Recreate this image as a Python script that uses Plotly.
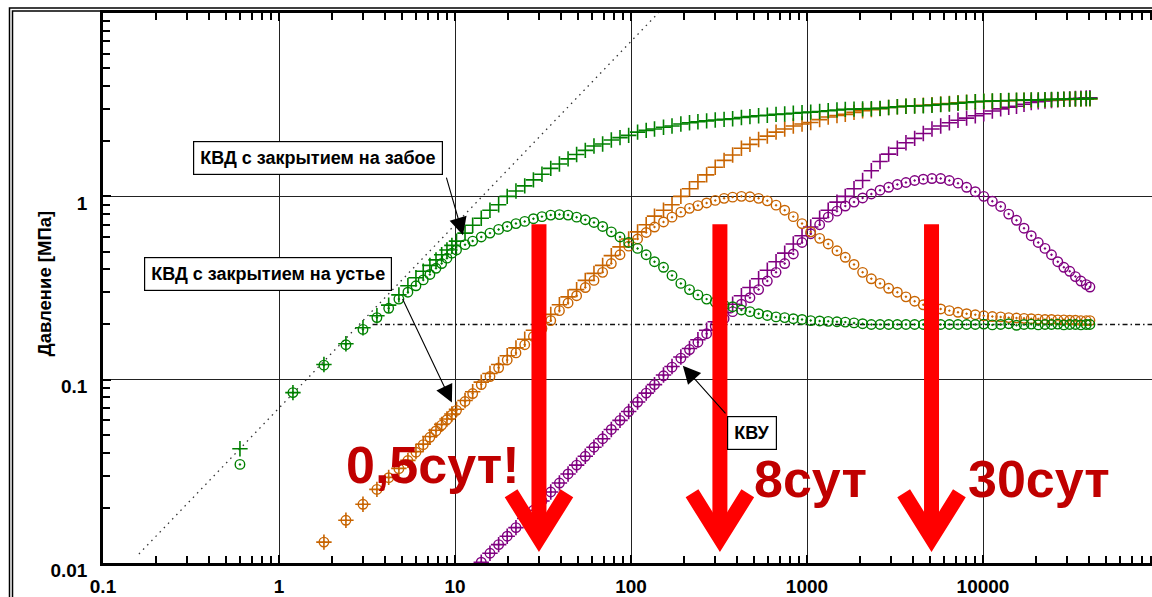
import numpy as np
import plotly.graph_objects as go

# ---------------- data ----------------
t = [0.6, 1.2, 1.8, 2.4, 3.0, 3.6, 4.2, 4.8, 5.4, 6.0, 6.6, 7.2, 7.8, 8.4, 9.0, 9.6, 10.2,
     11.4, 12.6, 14.1, 15.8, 17.7, 19.8, 22.2, 24.9, 27.9, 31.2, 35.0, 39.2, 43.9, 49.1, 55.0, 61.6, 69.0, 77.3, 86.6, 97.0,
     109, 122, 136, 153, 171, 192, 215, 240, 269, 301, 338, 378, 424, 474, 531, 595, 667, 747, 836, 937,
     1050, 1180, 1320, 1480, 1650, 1850, 2070, 2320, 2600, 2910, 3260, 3650, 4090, 4580, 5130, 5750, 6440, 7210, 8070, 9040,
     10100, 11300, 12600, 14000, 15500, 17100, 18800, 20600, 22500, 24500, 26600, 28800, 31100, 33500, 36000, 38600, 40500]

# КВД с закрытием на забое (green)
green_p = [0.042, 0.085, 0.121, 0.157, 0.192, 0.223, 0.255, 0.29, 0.325, 0.36, 0.39, 0.42, 0.45, 0.48, 0.51, 0.54, 0.57,
           0.63, 0.695, 0.76, 0.84, 0.90, 1.0, 1.07, 1.14, 1.23, 1.32, 1.42, 1.50, 1.60, 1.69, 1.78, 1.88, 1.93, 2.03, 2.09, 2.15,
           2.24, 2.29, 2.33, 2.38, 2.42, 2.48, 2.52, 2.55, 2.58, 2.61, 2.63, 2.65, 2.69, 2.72, 2.75, 2.77, 2.80, 2.81, 2.84, 2.86,
           2.88, 2.90, 2.93, 2.96, 2.98, 2.99, 3.0, 3.01, 3.02, 3.05, 3.08, 3.10, 3.11, 3.12, 3.14, 3.17, 3.19, 3.22, 3.25, 3.28,
           3.30, 3.31, 3.32, 3.33, 3.34, 3.35, 3.36, 3.36, 3.37, 3.38, 3.38, 3.39, 3.39, 3.40, 3.40, 3.41, 3.41]
green_d = [0.0345, 0.085, 0.12, 0.155, 0.188, 0.218, 0.245, 0.275, 0.30, 0.325, 0.35, 0.375, 0.405, 0.43, 0.46, 0.49, 0.51,
           0.545, 0.57, 0.60, 0.63, 0.66, 0.685, 0.71, 0.73, 0.755, 0.775, 0.79, 0.795, 0.79, 0.77, 0.745, 0.72, 0.685, 0.64, 0.60, 0.56,
           0.52, 0.48, 0.44, 0.41, 0.37, 0.335, 0.31, 0.29, 0.275, 0.265, 0.255, 0.25, 0.24, 0.235, 0.229, 0.224, 0.22, 0.218, 0.215, 0.213,
           0.21, 0.209, 0.208, 0.207, 0.206, 0.204, 0.202, 0.20, 0.20, 0.20, 0.20, 0.20, 0.20, 0.20, 0.20, 0.20, 0.20, 0.20, 0.20, 0.20,
           0.201, 0.199, 0.20, 0.202, 0.198, 0.20, 0.201, 0.199, 0.20, 0.20, 0.201, 0.199, 0.20, 0.20, 0.199, 0.20, 0.20]

# КВД с закрытием на устье (orange)
orange_p = [None, None, 0.013, 0.0171, 0.0209, 0.0252, 0.0293, 0.0328, 0.0363, 0.0405, 0.0445, 0.049, 0.053, 0.057, 0.061, 0.065, 0.069,
            0.077, 0.086, 0.097, 0.108, 0.121, 0.135, 0.149, 0.166, 0.186, 0.205, 0.227, 0.256, 0.283, 0.31, 0.348, 0.38, 0.42, 0.475, 0.53, 0.585,
            0.64, 0.70, 0.78, 0.84, 0.90, 1.0, 1.1, 1.2, 1.31, 1.44, 1.57, 1.68, 1.83, 1.92, 2.04, 2.13, 2.24, 2.33, 2.42, 2.48,
            2.53, 2.62, 2.71, 2.76, 2.80, 2.87, 2.93, 2.97, 3.01, 3.05, 3.08, 3.10, 3.12, 3.14, 3.16, 3.19, 3.21, 3.24, 3.26, 3.28,
            3.29, 3.30, 3.31, 3.32, 3.33, 3.34, 3.35, 3.35, 3.36, 3.37, 3.37, 3.38, 3.38, 3.39, 3.39, 3.40, 3.40]
orange_d = [None, None, 0.013, 0.0171, 0.0209, 0.0252, 0.0292, 0.0327, 0.0362, 0.0402, 0.0442, 0.0485, 0.0525, 0.0565, 0.0605, 0.0642, 0.068,
            0.076, 0.084, 0.094, 0.104, 0.116, 0.128, 0.14, 0.155, 0.172, 0.19, 0.21, 0.238, 0.262, 0.287, 0.318, 0.348, 0.385, 0.43, 0.48, 0.535,
            0.585, 0.635, 0.68, 0.725, 0.77, 0.82, 0.86, 0.89, 0.92, 0.95, 0.975, 0.99, 1.0, 0.995, 0.975, 0.945, 0.895, 0.84, 0.775, 0.71,
            0.64, 0.59, 0.55, 0.505, 0.465, 0.425, 0.385, 0.355, 0.335, 0.315, 0.30, 0.283, 0.268, 0.256, 0.248, 0.243, 0.238, 0.233, 0.229, 0.226,
            0.223, 0.221, 0.22, 0.218, 0.217, 0.216, 0.215, 0.214, 0.213, 0.213, 0.212, 0.212, 0.211, 0.211, 0.21, 0.21, 0.21]

# КВУ (purple)
purple_p = [None] * 17 + [
            None, None, 0.0101, 0.0113, 0.0126, 0.014, 0.0156, 0.0175, 0.0194, 0.0218, 0.0244, 0.0273, 0.0306, 0.0342, 0.0382, 0.0428, 0.0476, 0.0535, 0.060, 0.067,
            0.0755, 0.0845, 0.094, 0.106, 0.118, 0.133, 0.148, 0.165, 0.186, 0.207, 0.232, 0.258, 0.287, 0.318, 0.355, 0.395, 0.44, 0.49, 0.55, 0.61,
            0.68, 0.76, 0.84, 0.93, 1.0, 1.1, 1.22, 1.38, 1.55, 1.70, 1.83, 1.96, 2.07, 2.20, 2.33, 2.42, 2.52, 2.60, 2.67, 2.75,
            2.82, 2.92, 3.0, 3.06, 3.10, 3.18, 3.25, 3.28, 3.31, 3.33, 3.36, 3.38, 3.40, 3.42, 3.43, 3.44, 3.45]
purple_d = [None] * 17 + [
            None, None, 0.0101, 0.0113, 0.0126, 0.014, 0.0156, 0.0175, 0.0194, 0.0218, 0.0244, 0.0273, 0.0306, 0.0342, 0.0382, 0.0428, 0.0476, 0.0535, 0.060, 0.067,
            0.0755, 0.0845, 0.094, 0.105, 0.117, 0.131, 0.146, 0.16, 0.178, 0.196, 0.215, 0.235, 0.258, 0.28, 0.31, 0.345, 0.385, 0.43, 0.485, 0.56,
            0.625, 0.70, 0.77, 0.83, 0.885, 0.93, 0.98, 1.03, 1.08, 1.12, 1.16, 1.19, 1.22, 1.24, 1.25, 1.25, 1.22, 1.18, 1.12, 1.06,
            1.0, 0.94, 0.88, 0.80, 0.74, 0.67, 0.61, 0.56, 0.52, 0.48, 0.44, 0.41, 0.39, 0.365, 0.345, 0.33, 0.32]

# reference lines
unit_x = [0.16, 150]
unit_y = [0.0112, 10.5]
radial_x = [3.4, 100000]
radial_y = [0.2, 0.2]

# tick labels
x_tickvals = [0.1, 1, 10, 100, 1000, 10000]
x_ticktext = ["0.1", "1", "10", "100", "1000", "10000"]
y_tickvals = [0.01, 0.1, 1, 10]
y_ticktext = ["0.01", "0.1", "1", ""]

# annotations
labels = ["КВД с закрытием на забое", "КВД с закрытием на устье", "КВУ"]
label_pos = [(1.676, 1.62), (0.866, 0.377), (487, 0.0512)]
label_head = [(11.1, 0.614), (9.6, 0.075), (197, 0.119)]
label_tail_px = [(-17, -59), (-50, -105), (44, 49)]

big_texts = ["0,5сут!", "8сут", "30сут"]
big_pos = [(7.5, 0.0341), (1040, 0.0286), (20800, 0.0286)]
arrow_x = [30, 320, 5100]

# ---------------- figure ----------------
GREEN = "#008000"
ORANGE = "#C86400"
PURPLE = "#800080"

W, H = 1152, 597
ML, MT, MB, MR = 103, 13, 31, 0
PW, PH = W - ML - MR, H - MT - MB
XMAX_LOG = -1 + PW / 176.0

fig = go.Figure()
fig.add_trace(go.Scatter(x=unit_x, y=unit_y, mode="lines",
                         line=dict(color="#333333", width=1.3, dash="1.5px,4.5px"), hoverinfo="skip"))
fig.add_trace(go.Scatter(x=radial_x, y=radial_y, mode="lines",
                         line=dict(color="#111111", width=1.3, dash="5px,3px,1.5px,3px"), hoverinfo="skip"))

def add_series(y, color, symbol):
    cross = "cross" in symbol
    fig.add_trace(go.Scatter(
        x=t, y=y, mode="markers",
        marker=dict(symbol=symbol, size=11 if cross else 9.5, color=color,
                    line=dict(color=color, width=1.6 if cross else 1.4)),
    ))

add_series(purple_d, PURPLE, "circle-open-dot")
add_series(purple_p, PURPLE, "cross-thin-open")
add_series(orange_d, ORANGE, "circle-open-dot")
add_series(orange_p, ORANGE, "cross-thin-open")
add_series(green_d, GREEN, "circle-open-dot")
add_series(green_p, GREEN, "cross-thin-open")

x_minor = [m * 10.0 ** e for e in range(-1, 5) for m in range(2, 10)]
y_minor = [m * 10.0 ** e for e in range(-2, 1) for m in range(2, 10)]

axis_common = dict(
    type="log", showline=True, linecolor="black", linewidth=2.5,
    ticks="inside", ticklen=8, tickwidth=1.5, tickcolor="black",
    showgrid=True, gridcolor="#222222", gridwidth=1.2, zeroline=False,
    tickfont=dict(family="Liberation Sans, Arial, sans-serif", size=19, color="black", weight="bold"),
)
minor_common = dict(tickmode="array", ticks="inside", ticklen=7,
                    tickwidth=1.5, tickcolor="black", showgrid=False)

fig.update_layout(
    width=W, height=H, margin=dict(l=ML, r=MR, t=MT, b=MB, pad=0),
    paper_bgcolor="white", plot_bgcolor="white", showlegend=False,
    xaxis=dict(axis_common, range=[-1, XMAX_LOG], tickmode="array", mirror="ticks",
               tickvals=x_tickvals, ticktext=x_ticktext, ticklabelstandoff=4,
               minor=dict(minor_common, tickvals=x_minor)),
    yaxis=dict(axis_common, range=[-2, 1], tickmode="array", mirror=False,
               tickvals=y_tickvals, ticktext=y_ticktext, ticklabelstandoff=9, ticklabelshift=7,
               minor=dict(minor_common, tickvals=y_minor)),
)

ann = []
# y axis title
ann.append(dict(text="Давление [МПа]", textangle=-90, xref="paper", yref="paper",
                x=(45 - ML) / PW, y=(H - MB - 285) / PH, xanchor="center", yanchor="middle",
                showarrow=False,
                font=dict(family="Liberation Sans, Arial, sans-serif", size=18.5, color="black", weight="bold")))
# boxed labels
for txt, (lx, ly) in zip(labels, label_pos):
    ann.append(dict(text=txt, x=np.log10(lx), y=np.log10(ly), xref="x", yref="y", showarrow=False,
                    bgcolor="white", bordercolor="black", borderwidth=1.2, borderpad=6,
                    font=dict(family="Liberation Sans, Arial, sans-serif",
                              size=18, color="black", weight="bold")))
# label arrows
for (hx, hy), (ax, ay) in zip(label_head, label_tail_px):
    ann.append(dict(text="", x=np.log10(hx), y=np.log10(hy), xref="x", yref="y",
                    showarrow=True, ax=ax, ay=ay, arrowhead=2, arrowsize=3.2, arrowwidth=1.1,
                    arrowcolor="black"))
# big red texts
for txt, (bx, by) in zip(big_texts, big_pos):
    ann.append(dict(text=txt, x=np.log10(bx), y=np.log10(by), xref="x", yref="y", showarrow=False,
                    font=dict(family="Liberation Sans, Arial, sans-serif", size=52, color="#C00000", weight="bold")))
fig.update_layout(annotations=ann)

shapes = []
RED = "#FF0000"
for ax_ in arrow_x:
    shapes.append(dict(type="line", xref="x", yref="y", x0=ax_, x1=ax_, y0=0.705, y1=0.0137,
                       line=dict(color=RED, width=15), layer="above"))
    shapes.append(dict(type="path", xref="x", yref="y",
                       path=f"M {ax_ / 1.44},0.024 L {ax_},0.0137 L {ax_ * 1.44},0.024",
                       line=dict(color=RED, width=15), layer="above"))
# outer double frame (left and top sides; the rest lies outside the picture)
for off in (9.5, 12.5):
    fx = (off - ML) / PW
    fy = (H - MB - (off - 1.5)) / PH
    shapes.append(dict(type="path", xref="paper", yref="paper",
                       path=f"M {fx},-0.2 L {fx},{fy} L 1.2,{fy}",
                       line=dict(color="black", width=1.5), layer="above"))
fig.update_layout(shapes=shapes)

fig.write_html("out.html", config={"displayModeBar": False})
